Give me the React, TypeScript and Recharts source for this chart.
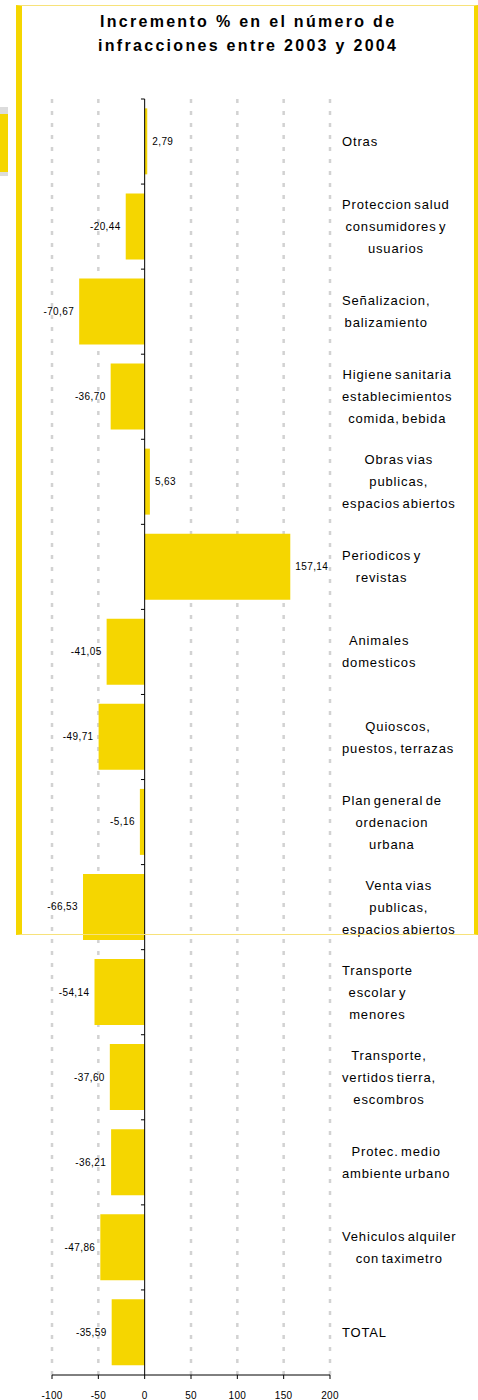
import { BarChart, Bar, XAxis, YAxis, CartesianGrid, ReferenceLine, LabelList } from "recharts";

const FONT = '"Liberation Sans", Arial, sans-serif';
const YELLOW = "#F5D600";

// category labels (line breaks as drawn in the original)
const categories = [
  "Otras",
  "Proteccion salud\nconsumidores y\nusuarios",
  "Señalizacion,\nbalizamiento",
  "Higiene sanitaria\nestablecimientos\ncomida, bebida",
  "Obras vias\npublicas,\nespacios abiertos",
  "Periodicos y\nrevistas",
  "Animales\ndomesticos",
  "Quioscos,\npuestos, terrazas",
  "Plan general de\nordenacion\nurbana",
  "Venta vias\npublicas,\nespacios abiertos",
  "Transporte\nescolar y\nmenores",
  "Transporte,\nvertidos tierra,\nescombros",
  "Protec. medio\nambiente urbano",
  "Vehiculos alquiler\ncon taximetro",
  "TOTAL",
];

// % change 2003 -> 2004
const increments = [
  2.79, -20.44, -70.67, -36.7, 5.63, 157.14, -41.05, -49.71, -5.16, -66.53, -54.14, -37.6, -36.21,
  -47.86, -35.59,
];

const xTicks = [-100, -50, 0, 50, 100, 150, 200];
const gridValues = xTicks.filter((t) => t !== 0);

const data = categories.map((name, i) => ({ name, value: increments[i] }));

const fmt = (v: number) => v.toFixed(2).replace(".", ",");

const LABEL_SIZE = 13;
const LABEL_SPACING = 0.85;
const WORD_SPACING = -2;

let ctx: CanvasRenderingContext2D | null = null;
function textWidth(s: string) {
  if (!ctx) ctx = document.createElement("canvas").getContext("2d");
  const spaces = s.split(" ").length - 1;
  if (!ctx) return s.length * LABEL_SIZE * 0.55;
  ctx.font = `${LABEL_SIZE}px ${FONT}`;
  return ctx.measureText(s).width + LABEL_SPACING * s.length + WORD_SPACING * spaces;
}

function CategoryTick({ x, y, payload }: any) {
  const lines = String(payload.value).split("\n");
  const w = Math.max(...lines.map((l) => textWidth(l)));
  const cx = x + w / 2;
  return (
    <g>
      {lines.map((l, i) => (
        <text
          key={i}
          x={cx}
          y={y + (i - (lines.length - 1) / 2) * 22}
          textAnchor="middle"
          dominantBaseline="central"
          fontSize={LABEL_SIZE}
          letterSpacing={LABEL_SPACING}
          wordSpacing={WORD_SPACING}
          fontFamily={FONT}
          fill="#000"
        >
          {l}
        </text>
      ))}
    </g>
  );
}

function ValueLabel({ x, y, width, height, value }: any) {
  const left = Math.min(x, x + width);
  const right = Math.max(x, x + width);
  const neg = value < 0;
  return (
    <text
      x={neg ? left - 5 : right + 5}
      y={y + height / 2}
      textAnchor={neg ? "end" : "start"}
      dominantBaseline="central"
      fontSize={10}
      letterSpacing={0.4}
      fontFamily={FONT}
      fill="#000"
    >
      {fmt(value)}
    </text>
  );
}

export default function App() {
  return (
    <div
      style={{
        position: "absolute",
        left: 0,
        top: 0,
        width: 478,
        height: 1400,
        background: "#fff",
        overflow: "hidden",
        fontFamily: FONT,
      }}
    >
      <BarChart
        width={478}
        height={1400}
        data={data}
        layout="vertical"
        margin={{ top: 99, right: 12, bottom: 0, left: 52 }}
        barCategoryGap="11%"
      >
        <CartesianGrid
          horizontal={false}
          verticalValues={gridValues}
          stroke="#D2D2D2"
          strokeWidth={2.5}
          strokeDasharray="4 8"
        />
        <XAxis
          type="number"
          domain={[-100, 200]}
          ticks={xTicks}
          allowDataOverflow
          height={25}
          tickSize={4}
          tickMargin={13}
          axisLine={{ stroke: "#000" }}
          tickLine={{ stroke: "#000" }}
          tick={{ fontSize: 10, fill: "#000", fontFamily: FONT, letterSpacing: 0.3 }}
        />
        <YAxis
          type="category"
          dataKey="name"
          orientation="right"
          width={136}
          axisLine={false}
          tickLine={false}
          tickSize={0}
          tickMargin={12}
          interval={0}
          tick={<CategoryTick />}
        />
        <Bar dataKey="value" fill={YELLOW} isAnimationActive={false}>
          <LabelList dataKey="value" content={<ValueLabel />} />
        </Bar>
        <ReferenceLine x={0} stroke="#000" />
        {categories.map((c) => (
          <ReferenceLine
            key={c}
            segment={[
              { x: -4, y: c },
              { x: 0, y: c },
            ]}
            position="start"
            stroke="#000"
            ifOverflow="visible"
          />
        ))}
      </BarChart>

      {/* title */}
      <div
        style={{
          position: "absolute",
          left: 16,
          top: 10,
          width: 462,
          textAlign: "center",
          fontWeight: "bold",
          fontSize: 16,
          lineHeight: "24px",
          letterSpacing: 2.3,
          paddingLeft: 2.3,
          boxSizing: "border-box",
          color: "#000",
        }}
      >
        Incremento % en el número de
        <br />
        infracciones entre 2003 y 2004
      </div>

      {/* frame */}
      <div
        style={{
          position: "absolute",
          left: 16,
          top: 5,
          width: 462,
          height: 930,
          boxSizing: "border-box",
          borderLeft: `6px solid ${YELLOW}`,
          borderRight: `4px solid ${YELLOW}`,
          borderTop: "1px solid #F7E27A",
          borderBottom: "1px solid #F7E27A",
          pointerEvents: "none",
        }}
      />

      {/* cut-off neighbour box at the left edge */}
      <div
        style={{
          position: "absolute",
          left: 0,
          top: 107,
          width: 8,
          height: 69,
          boxSizing: "border-box",
          background: YELLOW,
          borderTop: "7px solid #DCDCDC",
          borderBottom: "4px solid #DCDCDC",
        }}
      />
    </div>
  );
}
